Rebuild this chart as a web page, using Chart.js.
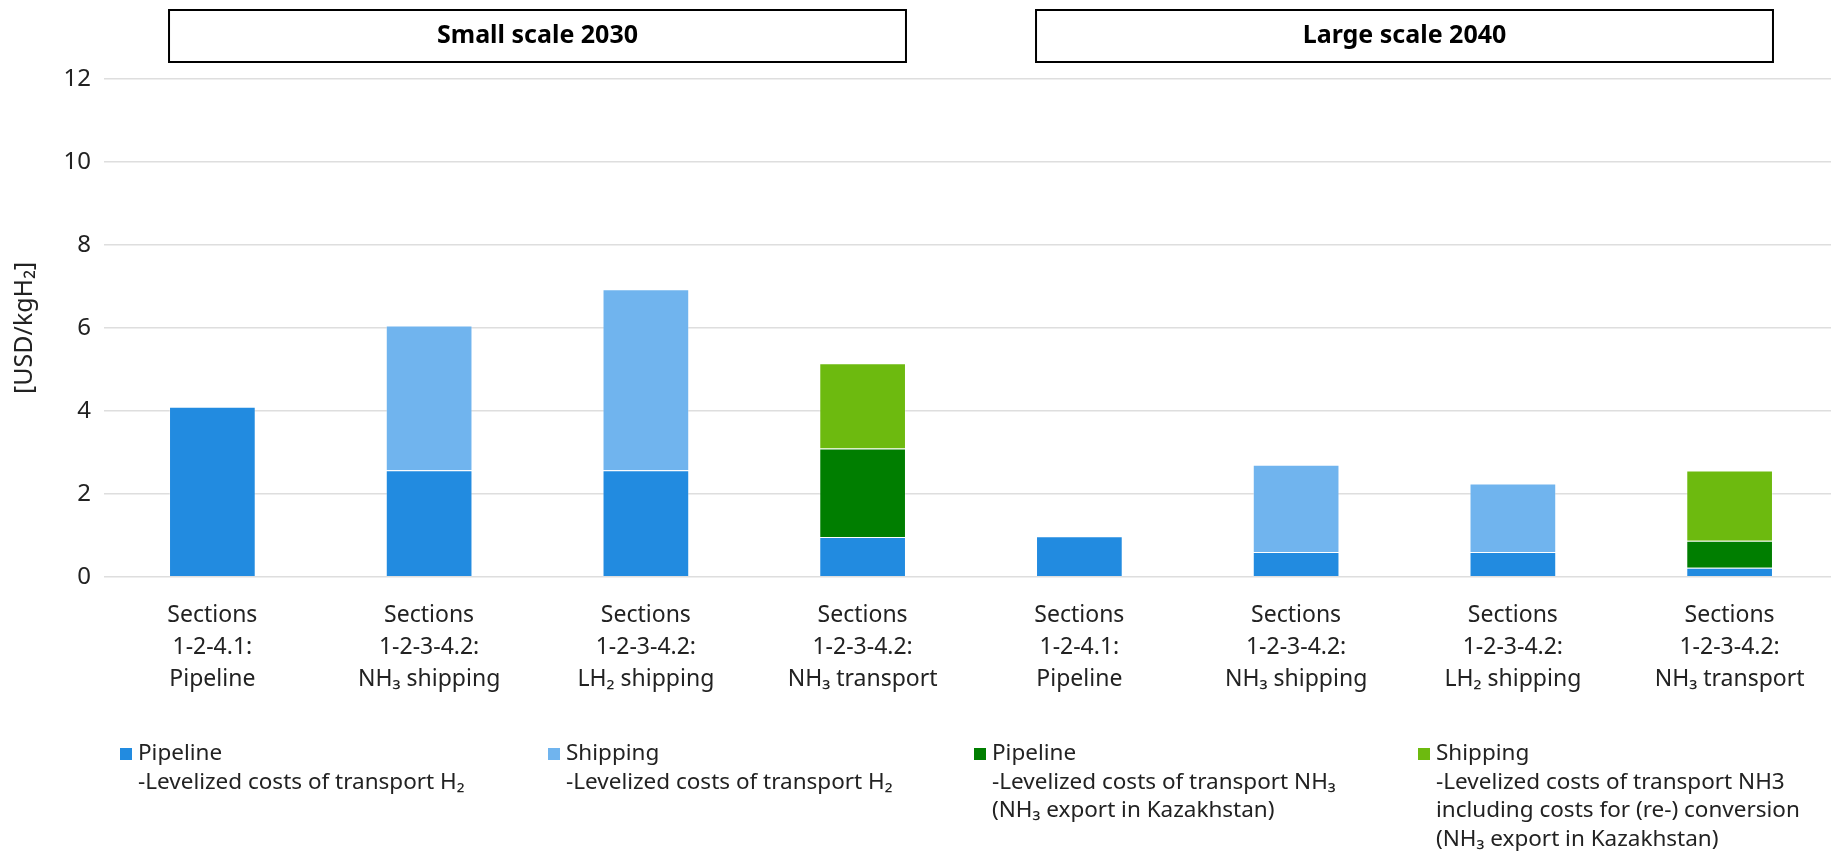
<!DOCTYPE html>
<html>
<head>
<meta charset="utf-8">
<script src="https://cdn.jsdelivr.net/npm/chart.js@4.4.1/dist/chart.umd.min.js"></script>
<style>
    html, body { margin: 0; padding: 0; background: #fff; overflow: hidden; }
    #wrap { width: 1840px; height: 854px; }
</style>
</head>
<body>
<div id="wrap"><canvas id="costChart" width="1840" height="854"></canvas></div>
<script>
// categories (x axis, three lines each)
var categories = [
    ['Sections', '1-2-4.1:', 'Pipeline'],
    ['Sections', '1-2-3-4.2:', 'NH₃ shipping'],
    ['Sections', '1-2-3-4.2:', 'LH₂ shipping'],
    ['Sections', '1-2-3-4.2:', 'NH₃ transport'],
    ['Sections', '1-2-4.1:', 'Pipeline'],
    ['Sections', '1-2-3-4.2:', 'NH₃ shipping'],
    ['Sections', '1-2-3-4.2:', 'LH₂ shipping'],
    ['Sections', '1-2-3-4.2:', 'NH₃ transport']
];

// stacked values in USD/kgH2
var pipelineH2 = [4.1, 2.57, 2.57, 0.96, 0.98, 0.6, 0.6, 0.22];
var shippingH2 = [null, 3.49, 4.36, null, null, 2.1, 1.65, null];
var pipelineNH3 = [null, null, null, 2.13, null, null, null, 0.65];
var shippingNH3 = [null, null, null, 2.06, null, null, null, 1.69];

var yMin = 0, yMax = 12, yStep = 2;

// scenario header boxes: title and first/last category index
var scenarioTitles = ['Small scale 2030', 'Large scale 2040'];
var scenarioFirst = [0, 4];
var scenarioLast = [3, 7];

var legendLines = [
    ['Pipeline', '-Levelized costs of transport H₂'],
    ['Shipping', '-Levelized costs of transport H₂'],
    ['Pipeline', '-Levelized costs of transport NH₃', '(NH₃ export in Kazakhstan)'],
    ['Shipping', '-Levelized costs of transport NH3', 'including costs for (re-) conversion', '(NH₃ export in Kazakhstan)']
];
var colors = ['#228be0', '#70b4ee', '#007e00', '#6dba0f'];

var FONT = "'Noto Sans', 'DejaVu Sans', sans-serif";

var headerPlugin = {
    id: 'scenarioHeaders',
    afterDraw: function(chart) {
        var c = chart.ctx;
        var bars = chart.getDatasetMeta(0).data;
        c.save();
        for (var i = 0; i < scenarioTitles.length; i++) {
            var a = bars[scenarioFirst[i]], b = bars[scenarioLast[i]];
            var x1 = a.x - a.width / 2, x2 = b.x + b.width / 2;
            c.strokeStyle = '#000';
            c.lineWidth = 2;
            c.strokeRect(x1, 10, x2 - x1, 52);
            c.fillStyle = '#000';
            c.font = 'bold 25px ' + FONT;
            c.textAlign = 'center';
            c.textBaseline = 'middle';
            c.fillText(scenarioTitles[i], (x1 + x2) / 2, 36);
        }
        c.restore();
    }
};

var legendPlugin = {
    id: 'multiLegend',
    afterDraw: function(chart) {
        var c = chart.ctx;
        var xs = [120, 548, 974, 1418];
        c.save();
        c.font = '22.5px ' + FONT;
        c.textBaseline = 'middle';
        c.textAlign = 'left';
        for (var i = 0; i < legendLines.length; i++) {
            c.fillStyle = colors[i];
            c.fillRect(xs[i], 748, 12, 12);
            c.fillStyle = '#222';
            for (var j = 0; j < legendLines[i].length; j++) {
                c.fillText(legendLines[i][j], xs[i] + 18, 754 + j * 28.5);
            }
        }
        c.restore();
    }
};

function makeSet(label, data, color) {
    return {
        label: label,
        data: data,
        backgroundColor: color,
        borderColor: 'rgba(255,255,255,0.3)',
        borderWidth: 1,
        barPercentage: 0.4,
        categoryPercentage: 1.0
    };
}

var ctx = document.getElementById('costChart').getContext('2d');
var costChart = new Chart(ctx, {
    type: 'bar',
    data: {
        labels: categories,
        datasets: [
            makeSet('Pipeline H2', pipelineH2, colors[0]),
            makeSet('Shipping H2', shippingH2, colors[1]),
            makeSet('Pipeline NH3', pipelineNH3, colors[2]),
            makeSet('Shipping NH3', shippingNH3, colors[3])
        ]
    },
    options: {
        responsive: false,
        animation: false,
        devicePixelRatio: 1,
        layout: {
            padding: { top: 79, left: 0, right: 2, bottom: 144 }
        },
        plugins: {
            legend: { display: false },
            tooltip: { enabled: false }
        },
        scales: {
            x: {
                stacked: true,
                grid: { display: false },
                border: { display: false },
                ticks: {
                    color: '#222',
                    padding: 15,
                    maxRotation: 0,
                    autoSkip: false,
                    font: { family: FONT, size: 23, lineHeight: 1.38 }
                }
            },
            y: {
                stacked: true,
                min: yMin,
                max: yMax,
                afterFit: function(scale) { scale.width = 104; },
                ticks: {
                    stepSize: yStep,
                    color: '#222',
                    padding: 13,
                    font: { family: FONT, size: 24 }
                },
                grid: { color: '#dedede', lineWidth: 1.5, drawTicks: false },
                border: { display: false },
                title: {
                    display: true,
                    text: '[USD/kgH₂]',
                    color: '#222',
                    padding: { top: 10, bottom: 0 },
                    font: { family: FONT, size: 25 }
                }
            }
        }
    },
    plugins: [headerPlugin, legendPlugin]
});
</script>
</body>
</html>
